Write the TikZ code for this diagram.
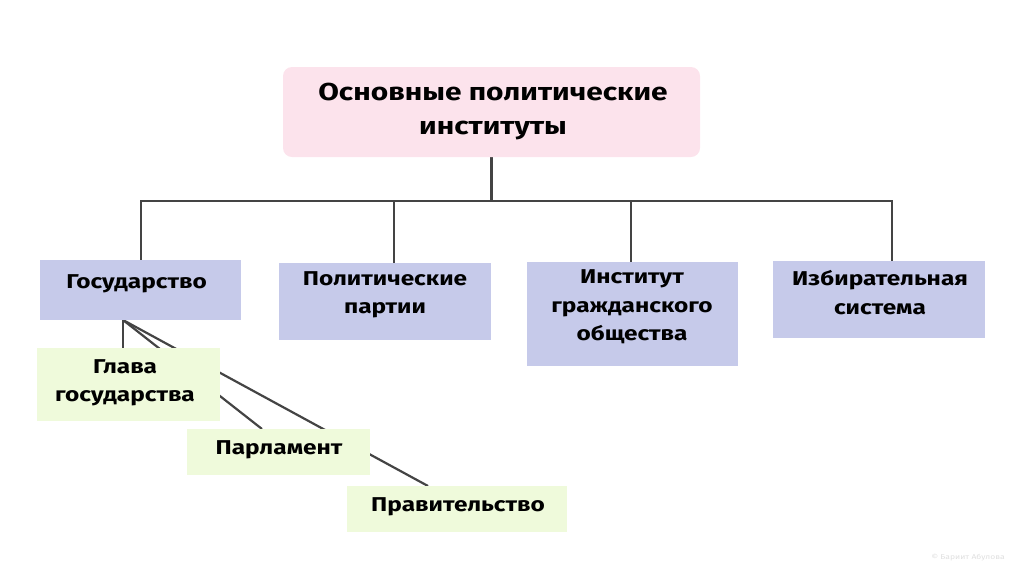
\documentclass[tikz,border=0pt]{standalone}
\usepackage{fontspec}
\setmainfont{Fira Sans}[FakeStretch=1.22]
\usetikzlibrary{backgrounds,calc}
\definecolor{pinkfill}{HTML}{FCE3EC}
\definecolor{bluefill}{HTML}{C6CAEA}
\definecolor{greenfill}{HTML}{EFFADB}
\definecolor{linegray}{HTML}{444444}
\begin{document}
\begin{tikzpicture}[x=1pt,y=-1pt,
  box/.style={rectangle,draw=none,inner sep=0pt,outer sep=0pt},
  pinkbox/.style={box,fill=pinkfill,rounded corners=9pt},
  bluebox/.style={box,fill=bluefill},
  greenbox/.style={box,fill=greenfill},
  txt/.style={align=center,inner sep=0pt,font=\bfseries\fontsize{20}{28.5}\selectfont},
  bigtxt/.style={align=center,inner sep=0pt,font=\bfseries\fontsize{24.5}{34}\selectfont},
  conn/.style={draw=linegray,line width=2.2pt}]
\useasboundingbox (0,0) rectangle (1024,574);
% boxes
\node[pinkbox,minimum width=417pt,minimum height=90pt] (top) at (491.5,112) {};
\node[bluebox,minimum width=201pt,minimum height=60pt] (gos) at (140.5,290) {};
\node[bluebox,minimum width=212pt,minimum height=77pt] (part) at (385,301.5) {};
\node[bluebox,minimum width=211pt,minimum height=104pt] (inst) at (632.5,314) {};
\node[bluebox,minimum width=212pt,minimum height=77pt] (izb) at (879,299.5) {};
\node[greenbox,minimum width=183pt,minimum height=73pt] (glava) at (128.5,384.5) {};
\node[greenbox,minimum width=183pt,minimum height=46pt] (parl) at (278.5,452) {};
\node[greenbox,minimum width=220pt,minimum height=46pt] (prav) at (457,509) {};
% texts
\node[bigtxt] (ttop) at (493,112) {Основные политические\\институты};
\node[txt] (tgos) at (136.5,284) {Государство};
\node[txt] (tpart) at (385,295) {Политические\\партии};
\node[txt] (tinst) at (632,307) {Институт\\гражданского\\общества};
\node[txt] (tizb) at (880,292.5) {Избирательная\\система};
\node[txt] (tglava) at (125,383) {Глава\\государства};
\node[txt] (tparl) at (279,450) {Парламент};
\node[txt] (tprav) at (458,507) {Правительство};
\node[text=gray!25,font=\fontsize{7}{8}\selectfont,inner sep=0pt] (wm) at (968,558) {© Бариит Абулова};
% connectors
\coordinate (bus) at (491.5,201);
\coordinate (b1) at (141,201);
\coordinate (b2) at (394,201);
\coordinate (b3) at (631,201);
\coordinate (b4) at (892,201);
\coordinate (apex) at (123,320);
\begin{pgfonlayer}{background}
\draw[conn] (top.south) -- (bus);
\draw[conn,line cap=rect] (b1) -- (b4);
\draw[conn] (b1) -- (b1 |- gos.north);
\draw[conn] (b2) -- (b2 |- part.north);
\draw[conn] (b3) -- (b3 |- inst.north);
\draw[conn] (b4) -- (b4 |- izb.north);
\draw[conn] (apex) -- (apex |- glava.north);
\draw[conn] (apex) -- ($(parl.north west)+(75,0)$);
\draw[conn] (apex) -- ($(prav.north west)+(81,0)$);
\end{pgfonlayer}
\end{tikzpicture}
\end{document}
